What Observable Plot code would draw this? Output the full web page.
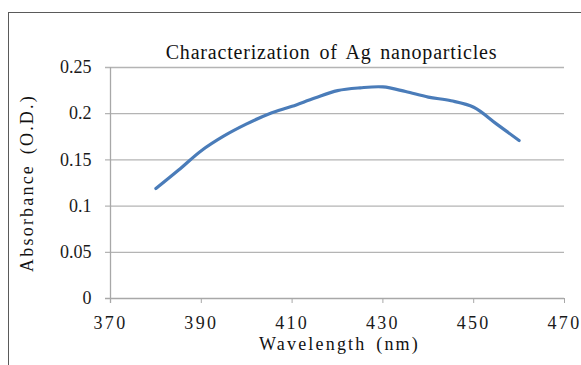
<!DOCTYPE html>
<html><head><meta charset="utf-8">
<script src="https://cdn.jsdelivr.net/npm/d3@7"></script>
<script src="https://cdn.jsdelivr.net/npm/@observablehq/plot@0.6"></script>
<style>
body{margin:0;background:#fff}
#wrap{position:relative;width:581px;height:365px;overflow:hidden;background:#fff}
#frame{position:absolute;left:8px;top:12px;width:700px;height:500px;border-left:1.5px solid #5a5a5a;border-top:1.5px solid #5a5a5a;pointer-events:none}
#wrap svg{position:absolute;left:0;top:0}
</style>
</head><body>
<div id="wrap"><div id="frame"></div></div>
<script>
const title = "Characterization of Ag nanoparticles";
const xLabel = "Wavelength (nm)";
const yLabel = "Absorbance (O.D.)";
const wavelength = [380,385,390,395,400,405,410,415,420,425,430,435,440,445,450,455,460];
const absorbance = [0.119,0.139,0.160,0.176,0.189,0.200,0.208,0.217,0.225,0.228,0.229,0.224,0.218,0.214,0.207,0.189,0.171];
const xTicks = [370,390,410,430,450,470];
const yTicks = [0,0.05,0.1,0.15,0.2,0.25];
const yTickLabels = ["0","0.05","0.1","0.15","0.2","0.25"];

const data = wavelength.map((w,i)=>({w, a: absorbance[i]}));
const FONT = "'Liberation Serif', 'Times New Roman', Tinos, serif";

const chart = Plot.plot({
  width:581, height:365,
  marginLeft:110, marginRight:17, marginTop:67, marginBottom:67,
  style:{fontSize:"18px", background:"transparent", color:"#1a1a1a"},
  x:{domain:[370,470], label:null},
  y:{domain:[0,0.25], label:null},
  marks:[
    Plot.ruleY(yTicks.slice(1), {stroke:"#b4b4b4", strokeWidth:1.3, insetLeft:-5}),
    Plot.ruleX([370], {stroke:"#a8a8a8", strokeWidth:1.3, insetBottom:-5}),
    Plot.ruleY([0], {stroke:"#a8a8a8", strokeWidth:1.3, insetLeft:-5}),
    Plot.axisX({ticks:xTicks, tickSize:5, tickPadding:13, stroke:"#a8a8a8", fontSize:18, tickFormat:d=>String(d)}),
    Plot.axisY({ticks:yTicks, tickSize:0, tickPadding:19, fontSize:18, tickFormat:(d)=>yTickLabels[yTicks.indexOf(d)]}),
    Plot.line(data, {x:"w", y:"a", stroke:"#4a7cb9", strokeWidth:3.2, curve:"catmull-rom", strokeLinecap:"round"}),
    Plot.text([title], {frameAnchor:"top", dx:-6, dy:-23, fontSize:20, fill:"#111"}),
    Plot.text([xLabel], {frameAnchor:"bottom", dx:2, dy:51, fontSize:18, fill:"#111"}),
    Plot.text([yLabel], {frameAnchor:"left", dx:-83, rotate:-90, textAnchor:"middle", fontSize:18, fill:"#111"})
  ]
});
chart.setAttribute("font-family", FONT);
chart.style.setProperty("font-family", FONT, "important");
chart.querySelectorAll("g, text").forEach(el => {
  el.setAttribute("font-family", FONT);
  el.style.setProperty("font-family", FONT, "important");
});
document.getElementById("wrap").appendChild(chart);
const svg = d3.select(chart);
svg.selectAll('g[aria-label="x-axis tick label"] text').style("letter-spacing","2.3px");
svg.selectAll('g[aria-label="text"] text').each(function(){
  const t = d3.select(this).text();
  if (t === title) d3.select(this).style("letter-spacing","0.8px").style("word-spacing","3px");
  else d3.select(this).style("letter-spacing","2.2px").style("word-spacing","3px");
});
</script>
</body></html>
